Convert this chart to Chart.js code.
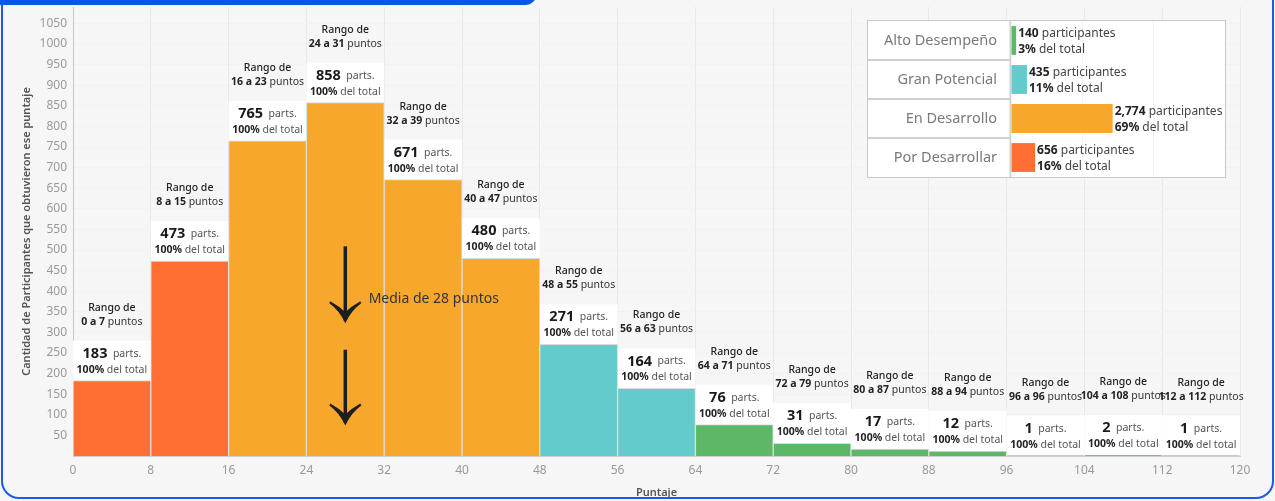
<!DOCTYPE html>
<html><head><meta charset="utf-8">
<script src="https://cdn.jsdelivr.net/npm/chart.js@4"></script>
<style>
html,body{margin:0;padding:0;background:#f6f6f6;width:1275px;height:501px;overflow:hidden;font-family:"Noto Sans",sans-serif}
#main{position:absolute;left:0;top:0}
#frame{position:absolute;left:1px;top:-30px;width:1269px;height:525px;border:2px solid #1b5be6;border-radius:18px;pointer-events:none}
#tab{position:absolute;left:0;top:-12px;width:537px;height:17px;background:#0a55ea;border-radius:0 0 12px 0}
#legendBox{position:absolute;left:866.5px;top:19.5px;width:357px;height:156px;border:1.5px solid #c9c9c9;background:#fff}
#legendBox canvas{display:block}
</style></head>
<body>
<canvas id="main" width="1275" height="501"></canvas>
<div id="legendBox"><canvas id="leg" width="357" height="156"></canvas></div>
<div id="frame"></div>
<div id="tab"></div>
<script>
// ---- data ----
const binStarts = [0, 8, 16, 24, 32, 40, 48, 56, 64, 72, 80, 88, 96, 104, 112];
const binEnds   = [7, 15, 23, 31, 39, 47, 55, 63, 71, 79, 87, 94, 96, 108, 112];
const counts    = [183, 473, 765, 858, 671, 480, 271, 164, 76, 31, 17, 12, 1, 2, 1];
const binGroups = ['Por Desarrollar','Por Desarrollar','En Desarrollo','En Desarrollo','En Desarrollo','En Desarrollo',
                   'Gran Potencial','Gran Potencial','Alto Desempeño','Alto Desempeño','Alto Desempeño','Alto Desempeño',
                   'Alto Desempeño','Alto Desempeño','Alto Desempeño'];
const binShares = ['100%','100%','100%','100%','100%','100%','100%','100%','100%','100%','100%','100%','100%','100%','100%'];
const xTicks = [0, 8, 16, 24, 32, 40, 48, 56, 64, 72, 80, 88, 96, 104, 112, 120];
const yTicks = [50,100,150,200,250,300,350,400,450,500,550,600,650,700,750,800,850,900,950,1000,1050];
const groupNames  = ['Alto Desempeño','Gran Potencial','En Desarrollo','Por Desarrollar'];
const groupTotals = [140, 435, 2774, 656];
const groupColors = ['#5CB866','#63CBCB','#F7A72B','#FE6F33'];
const meanScore = 28;
const meanLabel = 'Media de 28 puntos';
const arrowSpans = [[509, 322], [258, 74]];
const meanLabelAt = [30.4, 380];

const FONT = '"Noto Sans", sans-serif';
const colorOf = g => groupColors[groupNames.indexOf(g)];

function drawRuns(ctx, runs, cx, cy) {
  let total = 0;
  runs.forEach(r => { ctx.font = r.font; r.w = ctx.measureText(r.t).width; total += r.w; });
  let x = cx - total / 2;
  ctx.textBaseline = 'middle'; ctx.textAlign = 'left';
  runs.forEach(r => { ctx.font = r.font; ctx.fillStyle = r.color; ctx.fillText(r.t, x, cy); x += r.w; });
}

const labelPlugin = {
  id: 'binLabels',
  beforeDatasetsDraw(chart) {
    const ctx = chart.ctx, meta = chart.getDatasetMeta(0);
    ctx.save();
    ctx.fillStyle = '#ffffff';
    meta.data.forEach(b => {
      ctx.fillRect(b.x - b.width / 2, b.y - 40, b.width, 40);
    });
    ctx.restore();
  },
  afterDatasetsDraw(chart) {
    const ctx = chart.ctx, meta = chart.getDatasetMeta(0);
    ctx.save();
    const f = (w, s) => `${w} ${s}px ${FONT}`;
    meta.data.forEach((b, i) => {
      const cx = b.x, top = b.y;
      drawRuns(ctx, [{t: 'Rango de', font: f(500, 10.5), color: '#222'}], cx, top - 73);
      drawRuns(ctx, [{t: binStarts[i] + ' a ' + binEnds[i], font: f(700, 10.5), color: '#222'},
                     {t: ' puntos', font: f(400, 10.5), color: '#333'}], cx, top - 59);
      drawRuns(ctx, [{t: String(counts[i]), font: f(700, 14.5), color: '#1a1a1a'},
                     {t: '  parts.', font: f(400, 10.5), color: '#555'}], cx, top - 27);
      drawRuns(ctx, [{t: binShares[i], font: f(700, 10.5), color: '#222'},
                     {t: ' del total', font: f(400, 10.5), color: '#555'}], cx, top - 11);
    });
    // mean annotation
    const xs = chart.scales.x, ys = chart.scales.y;
    const ax = xs.getPixelForValue(meanScore);
    ctx.strokeStyle = '#1e1e1e'; ctx.lineCap = 'butt'; ctx.lineJoin = 'miter';
    arrowSpans.forEach(([v1, v2]) => {
      const y1 = ys.getPixelForValue(v1), y2 = ys.getPixelForValue(v2);
      ctx.lineWidth = 3.5;
      ctx.beginPath(); ctx.moveTo(ax, y1); ctx.lineTo(ax, y2 - 3); ctx.stroke();
      ctx.fillStyle = '#1e1e1e';
      ctx.beginPath();
      ctx.moveTo(ax, y2);
      ctx.quadraticCurveTo(ax - 6, y2 - 13, ax - 16, y2 - 20);
      ctx.lineTo(ax - 15, y2 - 22);
      ctx.quadraticCurveTo(ax - 6, y2 - 17, ax, y2 - 11);
      ctx.quadraticCurveTo(ax + 6, y2 - 17, ax + 15, y2 - 22);
      ctx.lineTo(ax + 16, y2 - 20);
      ctx.quadraticCurveTo(ax + 6, y2 - 13, ax, y2);
      ctx.closePath(); ctx.fill();
    });
    ctx.font = `400 14px ${FONT}`; ctx.fillStyle = '#333';
    ctx.textAlign = 'left'; ctx.textBaseline = 'middle';
    ctx.fillText(meanLabel, xs.getPixelForValue(meanLabelAt[0]), ys.getPixelForValue(meanLabelAt[1]));
    ctx.restore();
  }
};

new Chart(document.getElementById('main'), {
  type: 'bar',
  data: {
    datasets: [{
      data: binStarts.map((s, i) => ({x: s + 4, y: counts[i]})),
      backgroundColor: binGroups.map(colorOf),
      borderColor: '#dddddd',
      borderWidth: 1,
      barPercentage: 1,
      categoryPercentage: 1
    }]
  },
  options: {
    responsive: false, animation: false, devicePixelRatio: 1,
    layout: {padding: {left: 0, right: 35, top: 7, bottom: 0}},
    plugins: {legend: {display: false}, tooltip: {enabled: false}},
    scales: {
      x: {
        type: 'linear', min: 0, max: 120, offset: false,
        afterBuildTicks: s => { s.ticks = xTicks.map(v => ({value: v})); },
        ticks: {color: '#9a9a9a', font: {family: FONT, size: 12}, padding: 7, autoSkip: false, maxRotation: 0,
                callback: v => String(v)},
        grid: {color: '#e9e9e9', drawTicks: false, offset: false},
        border: {color: '#cfcfcf'},
        title: {display: true, text: 'Puntaje', color: '#555', font: {family: FONT, size: 11, weight: '600'}, padding: {top: 0, bottom: 2}},
        afterFit: s => { s.height = 45; s.paddingLeft = 0; s.paddingRight = 0; }
      },
      y: {
        min: 0, max: 1090,
        afterBuildTicks: s => { s.ticks = yTicks.map(v => ({value: v})); },
        ticks: {color: '#9a9a9a', font: {family: FONT, size: 12}, padding: 6, callback: v => String(v)},
        grid: {color: '#eeeeee', drawTicks: false},
        border: {color: '#c8c8c8', dash: [2, 2]},
        title: {display: true, text: 'Cantidad de Participantes que obtuvieron ese puntaje', color: '#555',
                font: {family: FONT, size: 11, weight: '600'}, padding: {top: 20, bottom: 0}},
        afterFit: s => { s.width = 73; s.paddingTop = 0; s.paddingBottom = 0; }
      }
    }
  },
  plugins: [labelPlugin]
});

const total = groupTotals.reduce((a, b) => a + b, 0);
const legendPlugin = {
  id: 'legendTable',
  afterDraw(chart) {
    const ctx = chart.ctx, ys = chart.scales.y, area = chart.chartArea;
    ctx.save();
    ctx.strokeStyle = '#d0d0d0'; ctx.lineWidth = 2;
    const n = groupNames.length;
    for (let i = 1; i < n; i++) {
      const yb = (ys.getPixelForValue(i - 1) + ys.getPixelForValue(i)) / 2;
      ctx.beginPath(); ctx.moveTo(0, yb); ctx.lineTo(area.left - 1, yb); ctx.stroke();
    }
    ctx.lineWidth = 1.5;
    ctx.beginPath(); ctx.moveTo(area.left - 0.75, 0); ctx.lineTo(area.left - 0.75, chart.height); ctx.stroke();
    const meta = chart.getDatasetMeta(0);
    meta.data.forEach((b, i) => {
      const x0 = b.x + 2;
      ctx.textAlign = 'left'; ctx.textBaseline = 'middle';
      ctx.font = `700 12px ${FONT}`; ctx.fillStyle = '#222';
      const numTxt = groupTotals[i].toLocaleString('en-US');
      ctx.fillText(numTxt, x0, b.y - 7);
      const w1 = ctx.measureText(numTxt).width;
      ctx.font = `400 12px ${FONT}`; ctx.fillStyle = '#444';
      ctx.fillText(' participantes', x0 + w1, b.y - 7);
      ctx.font = `700 12px ${FONT}`; ctx.fillStyle = '#222';
      const pTxt = Math.round(groupTotals[i] / total * 100) + '%';
      ctx.fillText(pTxt, x0, b.y + 9);
      const w2 = ctx.measureText(pTxt).width;
      ctx.font = `400 12px ${FONT}`; ctx.fillStyle = '#444';
      ctx.fillText(' del total', x0 + w2, b.y + 9);
    });
    ctx.restore();
  }
};

new Chart(document.getElementById('leg'), {
  type: 'bar',
  data: {labels: groupNames, datasets: [{data: groupTotals, backgroundColor: groupColors, barPercentage: 0.74, categoryPercentage: 1}]},
  options: {
    indexAxis: 'y', responsive: false, animation: false, devicePixelRatio: 1,
    layout: {padding: 0},
    plugins: {legend: {display: false}, tooltip: {enabled: false}},
    scales: {
      x: {min: 0, max: 5840, ticks: {display: false, stepSize: 2000}, grid: {color: '#f2f2f2', drawTicks: false},
          border: {display: false},
          afterFit: s => { s.height = 0; s.paddingLeft = 0; s.paddingRight = 0; }},
      y: {ticks: {color: '#7a7a7a', font: {family: FONT, size: 14.5}, padding: 6}, grid: {display: false},
          border: {display: false},
          afterFit: s => { s.width = 143; s.paddingTop = 0; s.paddingBottom = 0; }}
    }
  },
  plugins: [legendPlugin]
});
</script>
</body></html>
